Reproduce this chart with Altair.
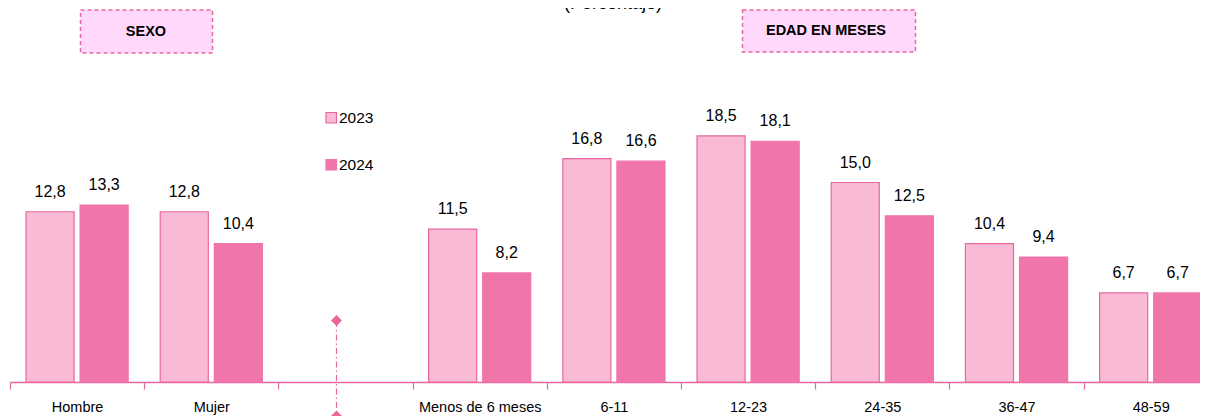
import altair as alt
import pandas as pd

# ---- data ----
categories = ["Hombre", "Mujer", " ", "Menos de 6 meses", "6-11", "12-23", "24-35", "36-47", "48-59"]
bar_categories = ["Hombre", "Mujer", "Menos de 6 meses", "6-11", "12-23", "24-35", "36-47", "48-59"]
values_2023 = [12.8, 12.8, 11.5, 16.8, 18.5, 15.0, 10.4, 6.7]
values_2024 = [13.3, 10.4, 8.2, 16.6, 18.1, 12.5, 9.4, 6.7]
years = ["2023", "2024"]
box_labels = ["SEXO", "EDAD EN MESES"]
subtitle = "(Porcentaje)"

rows = []
for cat, v in zip(bar_categories, values_2023):
    rows.append({"cat": cat, "year": "2023", "value": v})
for cat, v in zip(bar_categories, values_2024):
    rows.append({"cat": cat, "year": "2024", "value": v})
df = pd.DataFrame(rows)
df["label"] = df["value"].map(lambda v: f"{v:.1f}".replace(".", ","))

FONT = "Liberation Sans, Arial, sans-serif"
PINK_LINE = "#E8689E"
FILLS = ["#F8BAD5", "#F075AA"]
STROKES = ["#E8689E", "#F075AA"]

legend_def = alt.Legend(
    title=None, orient="none", legendX=313.5, legendY=102, direction="vertical",
    symbolType="square", symbolSize=110, labelFont=FONT, labelFontSize=15.5,
    labelColor="black", labelOffset=0, rowPadding=30, padding=0,
    symbolStrokeWidth=1.2,
)

x_enc = alt.X(
    "cat:N",
    sort=categories,
    scale=alt.Scale(domain=categories, paddingInner=0, paddingOuter=0),
    axis=alt.Axis(
        title=None, labelAngle=0, labelFont=FONT, labelFontSize=14.5, labelColor="black",
        domainColor=PINK_LINE, domainWidth=1.5, tickColor=PINK_LINE, tickWidth=1.2,
        tickSize=7, tickBand="extent", labelPadding=11, grid=False,
    ),
)
xoff_enc = alt.XOffset(
    "year:N", scale=alt.Scale(domain=years, paddingInner=0.111, paddingOuter=0.296)
)
y_enc = alt.Y(
    "value:Q", scale=alt.Scale(domain=[0, 374 / 13.3], nice=False), axis=None
)

base = alt.Chart(df)

bars = base.mark_bar(strokeWidth=1.2).encode(
    x=x_enc,
    xOffset=xoff_enc,
    y=y_enc,
    fill=alt.Fill("year:N", scale=alt.Scale(domain=years, range=FILLS), legend=legend_def),
    stroke=alt.Stroke("year:N", scale=alt.Scale(domain=years, range=STROKES), legend=legend_def),
)

labels = base.mark_text(
    font=FONT, fontSize=16, color="black", baseline="alphabetic", dy=-15
).encode(x=x_enc, xOffset=xoff_enc, y=y_enc, text="label:N")

one = alt.Chart(pd.DataFrame({"a": [0]}))

sep_line = one.mark_rule(color=PINK_LINE, strokeWidth=1.2, strokeDash=[6, 3, 1.5, 3]).encode(
    x=alt.value(326.5), y=alt.value(313), y2=alt.value(410)
)
diamond_top = one.mark_point(shape="diamond", filled=True, size=120, color=PINK_LINE, opacity=1).encode(
    x=alt.value(326.5), y=alt.value(312.5)
)
diamond_bot = one.mark_point(shape="diamond", filled=True, size=120, color=PINK_LINE, opacity=1).encode(
    x=alt.value(326.5), y=alt.value(408)
)

box1 = one.mark_rect(fill="#FFD8FC", stroke=PINK_LINE, strokeWidth=1.5, strokeDash=[4, 3]).encode(
    x=alt.value(70.5), x2=alt.value(202.5), y=alt.value(2), y2=alt.value(45)
)
box2 = one.mark_rect(fill="#FFD8FC", stroke=PINK_LINE, strokeWidth=1.5, strokeDash=[4, 3]).encode(
    x=alt.value(732.5), x2=alt.value(905.5), y=alt.value(2), y2=alt.value(44)
)
box1_text = one.mark_text(font=FONT, fontSize=14.5, fontWeight="bold", color="black",
                          baseline="middle", align="center").encode(
    x=alt.value(136), y=alt.value(23.5), text=alt.value(box_labels[0])
)
box2_text = one.mark_text(font=FONT, fontSize=14.5, fontWeight="bold", color="black",
                          baseline="middle", align="center").encode(
    x=alt.value(816), y=alt.value(23), text=alt.value(box_labels[1])
)
title_text = one.mark_text(font=FONT, fontSize=18, color="black",
                           baseline="alphabetic", align="center").encode(
    x=alt.value(603), y=alt.value(0.5), text=alt.value(subtitle)
)

chart = alt.layer(
    bars, labels, sep_line, diamond_top, diamond_bot,
    box1, box2, box1_text, box2_text, title_text,
).properties(
    width=1207.8, height=374,
    autosize=alt.AutoSizeParams(type="none"),
    padding={"left": 2, "top": 0, "right": -17.8, "bottom": 34},
    background="white",
).configure_view(stroke=None)

chart.save("out.html", embed_options={"renderer": "svg", "actions": False})
